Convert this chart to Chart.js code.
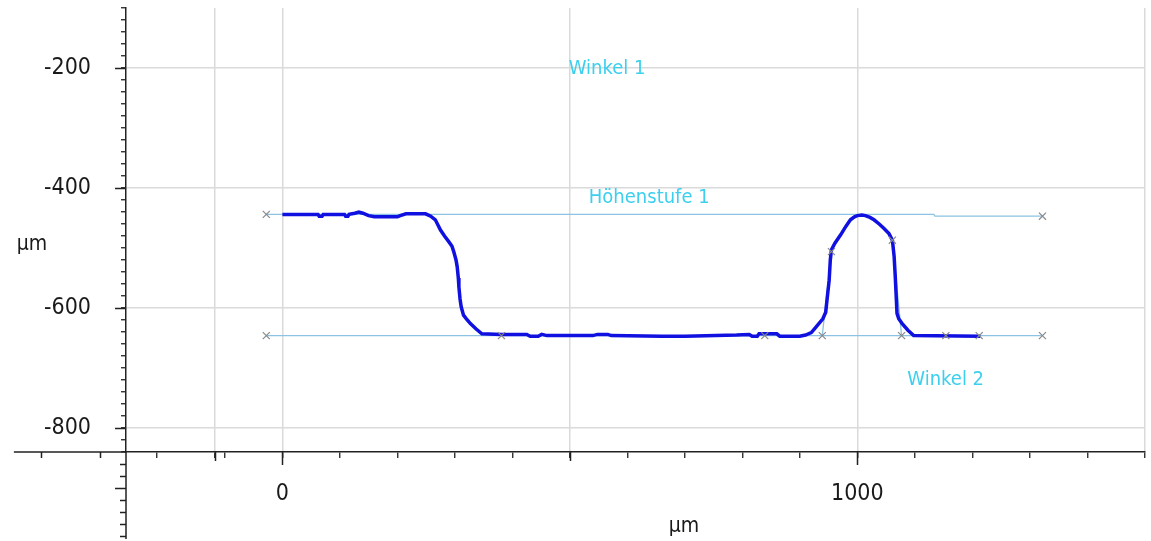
<!DOCTYPE html>
<html>
<head>
<meta charset="utf-8">
<script src="https://cdn.jsdelivr.net/npm/chart.js@4.4.1/dist/chart.umd.min.js"></script>
<style>
  html, body { margin: 0; padding: 0; background: #fff; }
  #wrap { width: 1151px; height: 541px; }
</style>
</head>
<body>
<div id="wrap"><canvas id="profil" width="1151" height="541"></canvas></div>
<script>
// Profilschnitt (µm)
const profileX = [0, 62, 64, 69, 71, 108, 110, 114, 116, 126, 133, 140, 150, 160, 200, 205, 215, 249, 258, 266, 275, 282, 289, 295, 298, 302, 304, 306, 307, 309, 311, 315, 320, 327, 337, 347, 382, 425, 431, 445, 451, 460, 540, 548, 566, 572, 660, 700, 790, 812, 817, 826, 829, 860, 865, 900, 910, 920, 928, 940, 945, 948, 951, 953, 955, 961, 971, 980, 988, 995, 1000, 1008, 1014, 1022, 1029, 1038, 1046, 1055, 1061, 1064, 1066, 1069, 1072, 1078, 1088, 1098, 1214];
const profileY = [-444, -444, -447, -447, -444, -444, -447, -447, -444, -442, -440, -442, -446, -448, -448, -446, -443, -443, -447, -453, -470, -480, -489, -497, -506, -520, -531, -550, -565, -585, -598, -612, -618, -626, -635, -643, -644, -644, -647, -647, -644, -646, -646, -644, -644, -646, -647, -647, -645, -644, -647, -647, -643, -643, -647, -647, -645, -641, -632, -618, -607, -580, -554, -520, -503, -492, -478, -464, -453, -448, -446, -445, -446, -449, -453, -460, -467, -476, -487, -514, -548, -609, -618, -626, -637, -646, -647];

// Höhenstufe 1 (obere / untere Referenzlinie)
const upperX = [-28, 1133, 1135, 1322];
const upperY = [-444, -444, -447, -447];
const lowerX = [-28, 1322];
const lowerY = [-646, -646];

// Winkel-Flanken
const winkel1X = [939, 955];
const winkel1Y = [-646, -506];
const winkel2X = [1077, 1061];
const winkel2Y = [-646, -487];

// Messpunkte (x)
const markerX = [-28, 1322, -28, 381, 839, 939, 1077, 1154, 1212, 1322, 955, 1061];
const markerY = [-444, -447, -646, -646, -646, -646, -646, -646, -646, -646, -506, -487];

// Beschriftungen
const noteText = ["Winkel 1", "Höhenstufe 1", "Winkel 2"];
const noteX = [498, 533, 1087];
const noteY = [-202, -417, -720];

// Achsen
const xTickValues = [-218, -118, -100, 0, 100, 200, 300, 400, 500, 600, 700, 800, 900, 1000, 1100, 1200, 1300, 1400, 1500];
const xLabelValues = [0, 1000];
const xGridValues = [-118, 0, 500, 1000, 1500];
const xLongTicks = [0, 1000];
const xMidTicks = [-118, 500];
const xExtTicks = [-318, -420];
const yLabelValues = [-200, -400, -600, -800];
const yExtTicks = [-860, -880, -900, -920, -940, -960, -980];
const yLongTicks = [-200, -400, -600, -800, -900];

const AXIS_FONT = "'DejaVu Sans Condensed', 'DejaVu Sans', sans-serif";

function pts(xs, ys) {
  return xs.map((x, i) => ({ x: x, y: ys[i] }));
}

const extras = {
  id: "extras",
  afterDraw(chart) {
    const c = chart.ctx;
    const xs = chart.scales.x;
    const ys = chart.scales.y;
    const x0 = xs.getPixelForValue(-272);
    const y0 = ys.getPixelForValue(-840);
    c.save();
    c.strokeStyle = "#222";
    c.lineWidth = 1.5;
    c.beginPath();
    // x-Achse nach links verlängert
    c.moveTo(xs.getPixelForValue(-467), y0);
    c.lineTo(x0, y0);
    // y-Achse nach unten verlängert
    c.moveTo(x0, y0);
    c.lineTo(x0, ys.getPixelForValue(-985));
    c.stroke();

    c.lineWidth = 1.5;
    c.beginPath();
    xExtTicks.forEach(v => {
      const p = Math.round(xs.getPixelForValue(v)) + 0.5;
      c.moveTo(p, y0);
      c.lineTo(p, y0 + 6);
    });
    xLongTicks.forEach(v => {
      const p = Math.round(xs.getPixelForValue(v)) + 0.5;
      c.moveTo(p, y0);
      c.lineTo(p, y0 + 13);
    });
    xMidTicks.forEach(v => {
      const p = Math.round(xs.getPixelForValue(v)) + 0.5;
      c.moveTo(p, y0);
      c.lineTo(p, y0 + 9);
    });
    yExtTicks.forEach(v => {
      const p = Math.round(ys.getPixelForValue(v)) + 0.5;
      c.moveTo(x0, p);
      c.lineTo(x0 - 6, p);
    });
    yLongTicks.forEach(v => {
      const p = Math.round(ys.getPixelForValue(v)) + 0.5;
      c.moveTo(x0, p);
      c.lineTo(x0 - 11, p);
    });
    c.stroke();

    // Achsentitel
    c.fillStyle = "#1a1a1a";
    c.font = "21px " + AXIS_FONT;
    c.textAlign = "center";
    c.textBaseline = "middle";
    c.fillText("µm", 32, 245);
    c.fillText("µm", 684, 527);

    // Messbeschriftungen
    c.fillStyle = "#3dcfee";
    c.font = "20px " + AXIS_FONT;
    c.textAlign = "left";
    noteText.forEach((t, i) => {
      c.fillText(t, xs.getPixelForValue(noteX[i]), ys.getPixelForValue(noteY[i]));
    });
    c.restore();
  }
};

const chart = new Chart(document.getElementById("profil").getContext("2d"), {
  type: "scatter",
  data: {
    datasets: [
      {
        label: "Messpunkte",
        data: pts(markerX, markerY),
        showLine: false,
        pointStyle: "crossRot",
        pointRadius: 5,
        borderColor: "#8a8a8a",
        borderWidth: 1.2
      },
      {
        label: "Profil",
        data: pts(profileX, profileY),
        showLine: true,
        borderColor: "#1010e0",
        borderWidth: 3.5,
        pointRadius: 0,
        tension: 0
      },
      {
        label: "Höhenstufe oben",
        data: pts(upperX, upperY),
        showLine: true,
        borderColor: "#8cc3e2",
        borderWidth: 1.3,
        pointRadius: 0
      },
      {
        label: "Höhenstufe unten",
        data: pts(lowerX, lowerY),
        showLine: true,
        borderColor: "#8cc3e2",
        borderWidth: 1.3,
        pointRadius: 0
      },
      {
        label: "Winkel 1",
        data: pts(winkel1X, winkel1Y),
        showLine: true,
        borderColor: "#8cc3e2",
        borderWidth: 1.3,
        pointRadius: 0
      },
      {
        label: "Winkel 2",
        data: pts(winkel2X, winkel2Y),
        showLine: true,
        borderColor: "#8cc3e2",
        borderWidth: 1.3,
        pointRadius: 0
      }
    ]
  },
  options: {
    responsive: false,
    animation: false,
    layout: { padding: { left: 0, right: 3, top: 8, bottom: 0 } },
    plugins: {
      legend: { display: false },
      tooltip: { enabled: false }
    },
    scales: {
      x: {
        type: "linear",
        min: -272,
        max: 1500,
        afterBuildTicks(scale) {
          scale.ticks = xTickValues.map(v => ({ value: v }));
        },
        afterFit(scale) {
          scale.height = 89;
          scale.paddingLeft = 0;
          scale.paddingRight = 0;
        },
        ticks: {
          autoSkip: false,
          maxRotation: 0,
          padding: 22,
          color: "#1a1a1a",
          font: { family: AXIS_FONT, size: 23 },
          callback: v => (xLabelValues.includes(v) ? String(v) : "")
        },
        grid: {
          color: ctx => (ctx.tick && xGridValues.includes(ctx.tick.value) ? "#dadada" : "rgba(0,0,0,0)"),
          lineWidth: 1.5,
          tickColor: "#222",
          tickLength: 6,
          tickWidth: 1.3
        },
        border: { color: "#222", width: 1.5 }
      },
      y: {
        type: "linear",
        min: -840,
        max: -100,
        afterFit(scale) {
          scale.width = 126;
          scale.paddingTop = 0;
          scale.paddingBottom = 0;
        },
        ticks: {
          stepSize: 20,
          autoSkip: false,
          padding: 30,
          color: "#1a1a1a",
          font: { family: AXIS_FONT, size: 23 },
          callback: v => (yLabelValues.includes(v) ? String(v) : "")
        },
        grid: {
          color: ctx => (ctx.tick && yLabelValues.includes(ctx.tick.value) ? "#dadada" : "rgba(0,0,0,0)"),
          lineWidth: 1.5,
          tickColor: "#222",
          tickLength: 5,
          tickWidth: 1.3
        },
        border: { color: "#222", width: 1.5 }
      }
    }
  },
  plugins: [extras]
});
</script>
</body>
</html>
